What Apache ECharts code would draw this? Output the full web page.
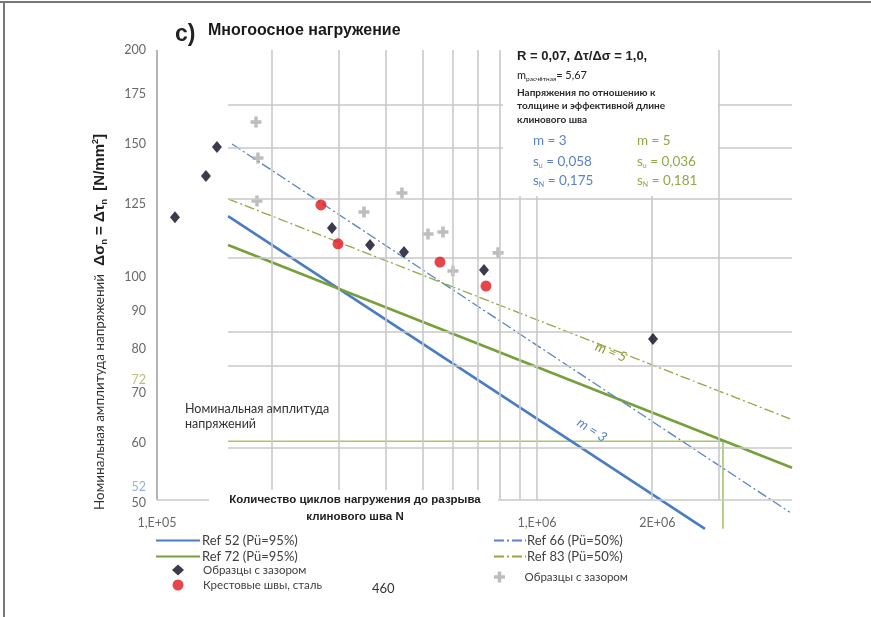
<!DOCTYPE html>
<html><head><meta charset="utf-8">
<script src="https://cdn.jsdelivr.net/npm/echarts@6/dist/echarts.min.js"></script>
<style>html,body{margin:0;padding:0;background:#fff}#c{width:871px;height:617px}</style>
</head><body><div id="c"></div>
<script>
// ---- tick labels ----
const yTickValues = [200, 175, 150, 125, 100, 90, 80, 72, 70, 60, 52, 50];
const yTickLabels = ['200', '175', '150', '125', '100', '90', '80', '72', '70', '60', '52', '50'];
const xTickValues = [1e5, 1e6, 2e6];
const xTickLabels = ['1,E+05', '1,E+06', '2E+06'];

// ---- S-N reference lines (N, stress range) ----
const ref52N = [1.538e5, 2.768e6];  const ref52S = [120.3, 46.2];
const ref72N = [1.538e5, 4.69e6];   const ref72S = [110.1, 55.7];
const ref66N = [1.576e5, 4.63e6];   const ref66S = [150.0, 48.6];
const ref83N = [1.538e5, 4.63e6];   const ref83S = [126.8, 64.7];
const nominalN = [1.538e5, 3.087e6, 3.087e6];
const nominalS = [60.4, 60.4, 46.2];

// ---- test points ----
const gapN = [1.115e5, 1.345e5, 1.438e5, 2.887e5, 3.636e5, 4.467e5, 7.254e5, 2.02e6];
const gapS = [119.9, 136.0, 148.6, 116.0, 110.1, 107.8, 102.0, 82.6];
const crossN = [2.701e5, 2.995e5, 5.555e5, 7.343e5];
const crossS = [124.5, 110.5, 104.5, 97.1];
const grayN = [1.822e5, 1.844e5, 1.833e5, 4.413e5, 3.505e5, 5.167e5, 5.657e5, 6.009e5, 7.9e5];
const grayS = [160.4, 143.7, 126.0, 129.1, 121.8, 113.9, 114.6, 101.7, 107.5];

// ---- grid lines ----
const vGridN = [2e5, 3e5, 4e5, 5e5, 6e5, 7e5, 8e5, 9e5, 1e6, 2e6, 3e6];
const hGridS = [169.0, 148.2, 126.8, 105.8, 84.4, 76.0, 59.2];
const bottomS = 50.5;
const xMin = 1e5, xMax = 4.69e6, yMin = 50, yMax = 200;
const hGridStartN = 1.538e5;

const zip = (a, b) => a.map((v, i) => [v, b[i]]);
const FONT = 'Lato';
const GRID = '#c9c9c9';

const gridLines = [];
vGridN.forEach(n => gridLines.push([{coord: [n, yMax]}, {coord: [n, bottomS]}]));
hGridS.forEach(s => gridLines.push([{coord: [hGridStartN, s]}, {coord: [xMax, s]}]));
gridLines.push([{coord: [xMin, bottomS]}, {coord: [xMax, bottomS]}]);
const axisLine = [[{coord: [xMin, yMax]}, {coord: [xMin, bottomS]}]];

const yLabelData = yTickValues.map((v, i) => {
  const item = {value: [xMin, v], name: yTickLabels[i]};
  if (yTickLabels[i] === '72') item.label = {color: '#a3b25c', offset: [0, -4]};
  if (yTickLabels[i] === '52') item.label = {color: '#7e9bd3', offset: [0, -3]};
  return item;
});
const xLabelData = xTickValues.map((v, i) => {
  const item = {value: [v, yMin], name: xTickLabels[i]};
  if (xTickLabels[i] === '2E+06') item.label = {offset: [6, 0]};
  return item;
});

const plusPath = 'path://M3.4,0H6.6V3.4H10V6.6H6.6V10H3.4V6.6H0V3.4H3.4Z';
const dashDot = [10, 3, 2, 3];

const option = {
  animation: false,
  backgroundColor: '#fff',
  grid: {left: 157, top: 50, width: 635, height: 453},
  xAxis: {type: 'log', logBase: 10, min: xMin, max: xMax,
    axisLine: {show: false}, axisTick: {show: false}, axisLabel: {show: false}, splitLine: {show: false}},
  yAxis: {type: 'log', logBase: 10, min: yMin, max: yMax,
    axisLine: {show: false}, axisTick: {show: false}, axisLabel: {show: false}, splitLine: {show: false}},
  legend: [
    {data: ['Ref 52 (Pü=95%)', 'Ref 72 (Pü=95%)'], orient: 'vertical', left: 150, top: 529,
      itemWidth: 44, itemHeight: 10, itemGap: 3, selectedMode: false, itemStyle: {opacity: 0},
      textStyle: {fontFamily: FONT, fontSize: 13, color: '#404040', padding: [0, 0, 0, -3]}},
    {data: ['Ref 66 (Pü=50%)', 'Ref 83 (Pü=50%)'], orient: 'vertical', left: 488, top: 529,
      itemWidth: 32, itemHeight: 10, itemGap: 3, selectedMode: false, itemStyle: {opacity: 0},
      textStyle: {fontFamily: FONT, fontSize: 13, color: '#404040', padding: [0, 0, 0, -4]}},
    {data: ['Образцы с зазором', 'Крестовые швы, сталь'], orient: 'vertical', left: 167, top: 559,
      itemWidth: 12, itemHeight: 11, itemGap: 3, selectedMode: false,
      textStyle: {fontFamily: FONT, fontSize: 11.5, color: '#404040', padding: [0, 0, 0, 14]}},
    {data: ['Образцы с зазором (серые)'], orient: 'vertical', left: 489, top: 566,
      itemWidth: 12, itemHeight: 11, selectedMode: false,
      formatter: () => 'Образцы с зазором',
      textStyle: {fontFamily: FONT, fontSize: 11.5, color: '#404040', padding: [0, 0, 0, 14]}}
  ],
  series: [
    {type: 'line', name: 'grid', data: [], z: 1, silent: true,
      markLine: {silent: true, symbol: 'none', label: {show: false}, animation: false,
        lineStyle: {color: GRID, width: 1.6, type: 'solid'}, data: gridLines}},
    {type: 'line', name: 'axis', data: [], z: 1, silent: true,
      markLine: {silent: true, symbol: 'none', label: {show: false}, animation: false,
        lineStyle: {color: '#b5b5b5', width: 2, type: 'solid'}, data: axisLine}},
    {type: 'line', name: 'nominal', data: zip(nominalN, nominalS), symbol: 'none', clip: false, z: 2,
      lineStyle: {color: '#a8c56a', width: 1.6}},
    {type: 'line', name: 'Ref 52 (Pü=95%)', data: zip(ref52N, ref52S), symbol: 'none', clip: false, z: 3,
      color: '#4a7cc4', lineStyle: {color: '#4a7cc4', width: 2.6}},
    {type: 'line', name: 'Ref 72 (Pü=95%)', data: zip(ref72N, ref72S), symbol: 'none', clip: false, z: 3,
      color: '#77a03a', lineStyle: {color: '#77a03a', width: 2.6}},
    {type: 'line', name: 'Ref 66 (Pü=50%)', data: zip(ref66N, ref66S), symbol: 'none', clip: false, z: 3,
      color: '#5a82c6', lineStyle: {color: '#5a82c6', width: 1.3, type: dashDot}},
    {type: 'line', name: 'Ref 83 (Pü=50%)', data: zip(ref83N, ref83S), symbol: 'none', clip: false, z: 3,
      color: '#8fa945', lineStyle: {color: '#8fa945', width: 1.3, type: dashDot}},
    {type: 'scatter', name: 'Образцы с зазором (серые)', data: zip(grayN, grayS), symbol: plusPath,
      symbolSize: 11, z: 4, itemStyle: {color: '#acacac'}},
    {type: 'scatter', name: 'Образцы с зазором', data: zip(gapN, gapS), symbol: 'diamond',
      symbolSize: [10, 12], z: 5, itemStyle: {color: '#0a0a1e'}},
    {type: 'scatter', name: 'Крестовые швы, сталь', data: zip(crossN, crossS), symbol: 'circle',
      symbolSize: 11, z: 5, itemStyle: {color: '#e0181d'}},
    {type: 'scatter', name: 'ylabels', data: yLabelData, symbolSize: 0, clip: false, silent: true, z: 6,
      label: {show: true, position: 'left', distance: 11, formatter: p => p.name,
        fontFamily: FONT, fontSize: 12.5, color: '#404040'}},
    {type: 'scatter', name: 'xlabels', data: xLabelData, symbolSize: 0, clip: false, silent: true, z: 6,
      label: {show: true, position: 'bottom', distance: 13, formatter: p => p.name,
        fontFamily: FONT, fontSize: 12.5, color: '#404040'}}
  ],
  graphic: [
    {type: 'line', z: 50, shape: {x1: 0, y1: 2, x2: 871, y2: 2}, style: {stroke: '#777', lineWidth: 2}},
    {type: 'line', z: 50, shape: {x1: 4, y1: 2, x2: 4, y2: 617}, style: {stroke: '#777', lineWidth: 2}},
    {type: 'text', z: 50, left: 175, top: 23, style: {text: 'c)', font: 'bold 23px "Liberation Sans"', fill: '#222'}},
    {type: 'text', z: 50, left: 208, top: 23, style: {text: 'Многоосное нагружение', font: 'bold 16px "Liberation Sans"', fill: '#1a1a1a'}},
    // annotation box
    {type: 'rect', z: 40, shape: {x: 503, y: 40, width: 215, height: 156}, style: {fill: '#fff'}},
    {type: 'text', z: 50, left: 517, top: 50, style: {text: 'R = 0,07, Δτ/Δσ = 1,0,', font: 'bold 13px "Liberation Sans"', fill: '#222'}},
    {type: 'text', z: 50, left: 517, top: 70, style: {
      text: '{a|m}{s|расчётная}{a|= 5,67}',
      rich: {a: {fontFamily: FONT, fontSize: 11, fill: '#222'}, s: {fontFamily: FONT, fontSize: 6.5, fill: '#222', verticalAlign: 'bottom', padding: [6, 0, 0, 0]}}}},
    {type: 'text', z: 50, left: 517, top: 86, style: {
      text: 'Напряжения по отношению к\nтолщине и эффективной длине\nклинового шва',
      fontFamily: FONT, fontSize: 10, lineHeight: 13.5, fill: '#2a2a2a', fontWeight: 'bold'}},
    {type: 'text', z: 50, left: 533, top: 134, style: {text: 'm = 3', fontFamily: FONT, fontSize: 13.5, fill: '#5a82c6'}},
    {type: 'text', z: 50, left: 533, top: 155, style: {text: '{a|s}{s|u}{a| = 0,058}', rich: {a: {fontFamily: FONT, fontSize: 13.5, fill: '#5a82c6'}, s: {fontFamily: FONT, fontSize: 7, fill: '#5a82c6', padding: [7, 0, 0, 0]}}}},
    {type: 'text', z: 50, left: 533, top: 174, style: {text: '{a|s}{s|N}{a| = 0,175}', rich: {a: {fontFamily: FONT, fontSize: 13.5, fill: '#5a82c6'}, s: {fontFamily: FONT, fontSize: 7, fill: '#5a82c6', padding: [7, 0, 0, 0]}}}},
    {type: 'text', z: 50, left: 637, top: 134, style: {text: 'm = 5', fontFamily: FONT, fontSize: 13.5, fill: '#8fa945'}},
    {type: 'text', z: 50, left: 637, top: 155, style: {text: '{a|s}{s|u}{a| = 0,036}', rich: {a: {fontFamily: FONT, fontSize: 13.5, fill: '#8fa945'}, s: {fontFamily: FONT, fontSize: 7, fill: '#8fa945', padding: [7, 0, 0, 0]}}}},
    {type: 'text', z: 50, left: 637, top: 174, style: {text: '{a|s}{s|N}{a| = 0,181}', rich: {a: {fontFamily: FONT, fontSize: 13.5, fill: '#8fa945'}, s: {fontFamily: FONT, fontSize: 7, fill: '#8fa945', padding: [7, 0, 0, 0]}}}},
    // slope annotations
    {type: 'text', z: 50, x: 592, y: 430, rotation: -0.584, style: {text: 'm = 3', fontFamily: FONT, fontSize: 13.5, fontStyle: 'italic', fill: '#5a82c6', align: 'center', verticalAlign: 'middle'}},
    {type: 'text', z: 50, x: 611, y: 352, rotation: -0.374, style: {text: 'm = 5', fontFamily: FONT, fontSize: 13.5, fontStyle: 'italic', fill: '#8a9a30', align: 'center', verticalAlign: 'middle'}},
    // nominal amplitude note
    {type: 'text', z: 50, left: 185, top: 401, style: {text: 'Номинальная амплитуда\nнапряжений', fontFamily: FONT, fontSize: 12.5, lineHeight: 15, fill: '#333'}},
    // x axis title
    {type: 'rect', z: 40, shape: {x: 209, y: 490, width: 289, height: 35}, style: {fill: '#fff'}},
    {type: 'text', z: 50, x: 355, y: 508, style: {text: 'Количество циклов нагружения до разрыва\nклинового шва N', font: 'bold 11.5px "Liberation Sans"', lineHeight: 17, fill: '#222', align: 'center', verticalAlign: 'middle'}},
    {type: 'text', z: 50, left: 372, top: 582, style: {text: '460', fontFamily: FONT, fontSize: 13, fill: '#333'}},
    // y axis title
    {type: 'text', z: 50, x: 100, y: 322, rotation: Math.PI / 2, style: {
      text: '{a|Номинальная амплитуда напряжений}{b|  Δσ}{c|n}{b| = Δτ}{c|n}{b|  [N/mm}{d|2}{b|]}',
      align: 'center', verticalAlign: 'middle',
      rich: {
        a: {fontFamily: FONT, fontSize: 13.5, fill: '#333'},
        b: {fontFamily: 'Liberation Sans', fontWeight: 'bold', fontSize: 15, fill: '#222'},
        c: {fontFamily: 'Liberation Sans', fontWeight: 'bold', fontSize: 9, fill: '#222', padding: [9, 0, 0, 0]},
        d: {fontFamily: 'Liberation Sans', fontWeight: 'bold', fontSize: 9, fill: '#222', padding: [0, 0, 9, 0]}
      }}}
  ]
};
const chart = echarts.init(document.getElementById('c'), null, {renderer: 'canvas'});
chart.setOption(option);
</script>
</body></html>
